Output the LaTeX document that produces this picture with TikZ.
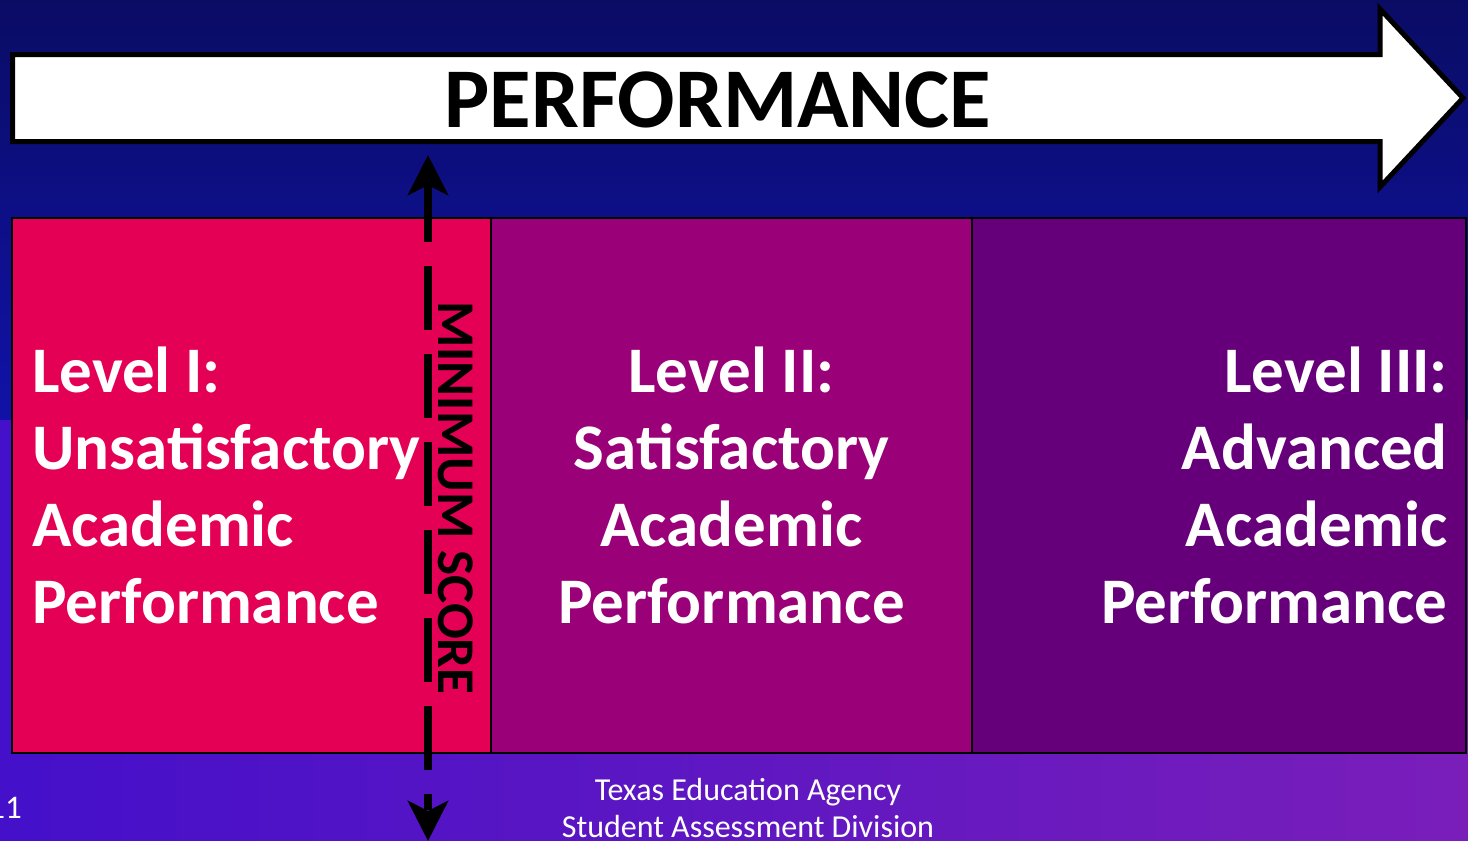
\documentclass[tikz,border=0pt]{standalone}
\usepackage{fontspec}
\setmainfont{Carlito}
\usetikzlibrary{arrows.meta,positioning}

\definecolor{bgtop}{RGB}{10,12,100}
\definecolor{bgmid}{RGB}{16,18,168}
\definecolor{bglowl}{RGB}{68,16,202}
\definecolor{bglowr}{RGB}{122,30,186}
\definecolor{lvlone}{RGB}{228,0,84}
\definecolor{lvltwo}{RGB}{154,0,120}
\definecolor{lvlthree}{RGB}{102,0,122}

\tikzset{
  lvlbox/.style={draw=black,line width=2pt,inner sep=0pt},
  lvltext/.style={text=white,inner sep=0pt,font=\fontsize{65}{77}\selectfont\bfseries},
  foot/.style={text=white,inner sep=0pt,font=\fontsize{32}{37}\selectfont}
}

\begin{document}
\begin{tikzpicture}[x=1pt,y=-1pt]
        \useasboundingbox (0,0) rectangle (1468,841);
        \shade[top color=bgtop,bottom color=bgmid] (0,0) rectangle (1468,420);
        \shade[left color=bglowl,right color=bglowr] (0,420) rectangle (1468,841);

        % performance arrow
        \draw[fill=white,line width=5pt,line join=miter] (12.5,54.5) -- (1380,54.5) -- (1380,9) -- (1463,98)
              -- (1380,187) -- (1380,141.5) -- (12.5,141.5) -- cycle;
        \node[inner sep=0pt,font=\fontsize{85}{85}\selectfont\bfseries] (perf) at (718,100) {PERFORMANCE};

        % level boxes
		\node[lvlbox,fill=lvlone,minimum width=479pt,minimum height=535pt] (one) at (251.5,485.5) {};
		\node[lvlbox,fill=lvltwo,minimum width=481pt,minimum height=535pt] (two) at (731.5,485.5) {};
		\node[lvlbox,fill=lvlthree,minimum width=494pt,minimum height=535pt] (three) at (1219,485.5) {};

        \node[lvltext,align=left,anchor=west] (onetxt) at ([xshift=21pt]one.west) {Level I:\\Unsatisfactory\\Academic\\Performance};
        \node[lvltext,align=center] (twotxt) at (two.center) {Level II:\\Satisfactory\\Academic\\Performance};
        \node[lvltext,align=right,anchor=east] (threetxt) at ([xshift=-19pt]three.east) {Level III:\\Advanced\\Academic\\Performance};

        % minimum score line
        \coordinate (mtop) at (428,155);
        \coordinate (mbot) at (428,841);
        \coordinate (mstart) at (428,178);
        \coordinate (mend) at (428,810);
        \draw[line width=8pt,dash pattern=on 64pt off 24pt] (mstart) -- (mend);
        \draw[line width=8pt,-{Stealth[length=40pt,width=40pt,inset=10pt]}] (mstart) -- (mtop);
        \draw[line width=8pt,-{Stealth[length=40pt,width=40pt,inset=10pt]}] ([yshift=-20pt]mend) -- (mbot);
        \node[inner sep=0pt,rotate=-90,font=\fontsize{53}{53}\selectfont\bfseries] (mscore) at (456,498) {MINIMUM SCORE};

        % footer
        \node[foot,align=center] (agency) at (748,808) {Texas Education Agency\\Student Assessment Division};
        \node[foot,anchor=east,font=\fontsize{33}{33}\selectfont] (page) at (22,808) {11};
\end{tikzpicture}
\end{document}
